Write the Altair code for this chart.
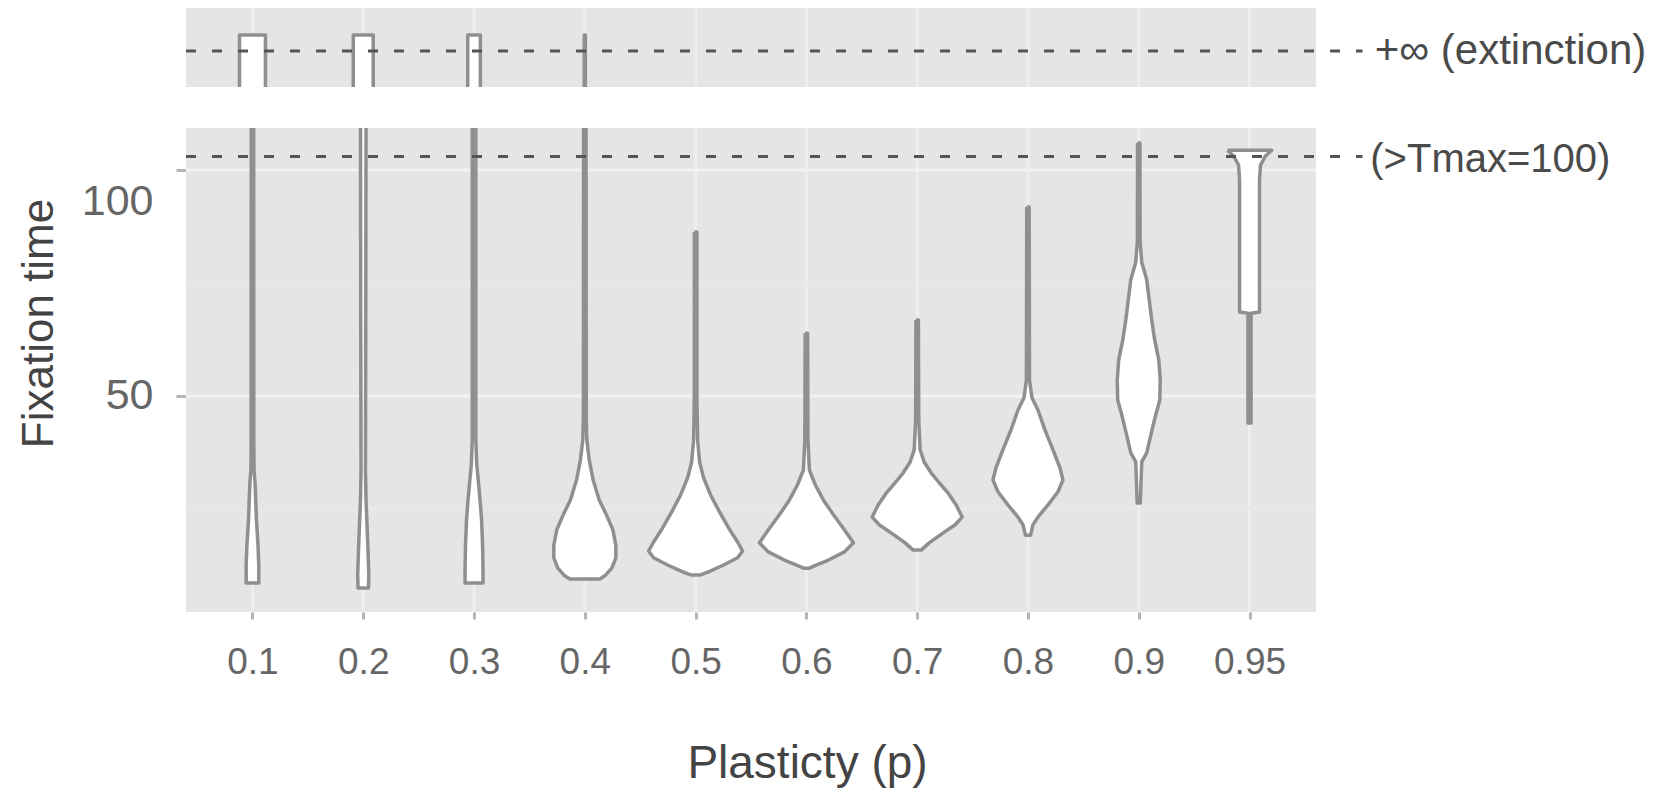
import json
import altair as alt
import pandas as pd

FONT = "Liberation Sans"

# Plasticity levels (x categories)
P_LABELS = ["0.1", "0.2", "0.3", "0.4", "0.5", "0.6", "0.7", "0.8", "0.9", "0.95"]

# Violin outlines: fixation time (top -> bottom) and half-width (category units)
T_01 = [109.3, 40.3, 33.6, 31.0, 22.6, 17.0, 12.6, 8.6]
W_01 = [0.011, 0.012, 0.014, 0.023, 0.036, 0.050, 0.057, 0.057]

T_02 = [109.3, 71.2, 33.6, 27.0, 21.5, 15.9, 10.4, 7.5]
W_02 = [0.025, 0.023, 0.020, 0.025, 0.034, 0.043, 0.050, 0.047]

T_03 = [109.3, 40.3, 34.7, 31.4, 27.0, 22.6, 17.0, 11.5, 8.6]
W_03 = [0.016, 0.016, 0.025, 0.038, 0.054, 0.068, 0.077, 0.081, 0.081]

T_04 = [109.3, 44.7, 40.3, 35.8, 31.4, 27.0, 23.7, 20.4, 17.0, 14.2, 11.9, 10.2, 9.5]
W_04 = [0.011, 0.013, 0.018, 0.040, 0.075, 0.130, 0.195, 0.253, 0.280, 0.280, 0.244, 0.181, 0.135]

T_05 = [86.3, 49.1, 40.3, 35.4, 31.9, 28.1, 24.3, 20.8, 17.7, 15.7, 14.2, 12.6, 11.2, 10.4]
W_05 = [0.011, 0.012, 0.018, 0.036, 0.072, 0.135, 0.217, 0.298, 0.379, 0.424, 0.379, 0.253, 0.126, 0.045]

T_06 = [63.9, 40.3, 33.6, 30.3, 27.0, 23.7, 20.4, 17.5, 15.5, 13.7, 12.4, 11.9]
W_06 = [0.011, 0.014, 0.027, 0.081, 0.153, 0.244, 0.343, 0.424, 0.343, 0.199, 0.072, 0.027]

T_07 = [66.8, 44.7, 38.1, 35.4, 33.0, 30.8, 28.5, 25.9, 23.2, 21.5, 19.7, 17.5, 15.9]
W_07 = [0.011, 0.014, 0.027, 0.063, 0.126, 0.199, 0.280, 0.352, 0.406, 0.343, 0.235, 0.108, 0.036]

T_08 = [91.8, 53.5, 49.6, 46.9, 42.5, 38.1, 34.1, 31.4, 28.8, 25.9, 23.2, 21.5, 19.2]
W_08 = [0.011, 0.014, 0.036, 0.090, 0.153, 0.226, 0.289, 0.316, 0.271, 0.181, 0.090, 0.045, 0.023]

T_09 = [106.0, 84.5, 79.6, 75.7, 71.2, 66.8, 62.4, 58.0, 53.5, 49.1, 45.8, 43.1, 40.3, 37.4, 35.4, 26.3]
W_09 = [0.011, 0.012, 0.027, 0.072, 0.095, 0.117, 0.144, 0.181, 0.194, 0.190, 0.153, 0.126, 0.099, 0.072, 0.027, 0.014]

T_095 = [104.4, 103.1, 101.1, 97.8, 68.6, 68.3, 44.0]
W_095 = [0.199, 0.144, 0.099, 0.090, 0.090, 0.014, 0.014]

T_SERIES = [T_01, T_02, T_03, T_04, T_05, T_06, T_07, T_08, T_09, T_095]
W_SERIES = [W_01, W_02, W_03, W_04, W_05, W_06, W_07, W_08, W_09, W_095]

# Extinct runs (+inf strip): half-widths of the violins reaching it
EXT_P = ["0.1", "0.2", "0.3", "0.4"]
EXT_W = [0.117, 0.090, 0.057, 0.005]
EXT_TOP = 0.658      # upper end of the strip violins (strip level units)
EXT_LINE = 0.456     # level of the +inf reference line
TMAX_LINE = 103      # level standing for runs beyond Tmax

Y_TICKS = [50, 100]
Y_MINOR = [25, 75]

# Layout
W = 1130
MAIN_H, GAP, TOP_H = 484, 41, 79
H = MAIN_H + GAP + TOP_H
X_LO, X_HI = 0.4, 10.6
T_LO, T_TOP = 2.2, 109.3
T_HI = T_LO + (T_TOP - T_LO) * H / MAIN_H
L_LO = -(MAIN_H + GAP) / TOP_H
RULE_END = 11.02
LABEL_X_EXT = 11.13
LABEL_X_TMAX = 11.09

PANEL = "#E5E5E5"
STROKE = "#8f8f8f"

xs = alt.Scale(domain=[X_LO, X_HI], nice=False, zero=False)
ys = alt.Scale(domain=[T_LO, T_HI], nice=False, zero=False)
ls = alt.Scale(domain=[L_LO, 1], nice=False, zero=False)

# ---- data tables -------------------------------------------------------
line_rows = []
for i, (p, ts, ws) in enumerate(zip(P_LABELS, T_SERIES, W_SERIES)):
    pos = i + 1
    left = [(pos - w, t) for t, w in zip(ts, ws)]
    right = [(pos + w, t) for t, w in reversed(list(zip(ts, ws)))]
    pts = left + right
    if ts[0] < T_TOP:
        pts.append(left[0])
    for k, (x, t) in enumerate(pts):
        line_rows.append({"p": p, "k": k, "x": x, "t": t})
line_df = pd.DataFrame(line_rows)

ext_line = []
for p, w in zip(EXT_P, EXT_W):
    pos = P_LABELS.index(p) + 1
    pts = [(pos - w, 0.0), (pos - w, EXT_TOP), (pos + w, EXT_TOP), (pos + w, 0.0)]
    for k, (x, lv) in enumerate(pts):
        ext_line.append({"p": p, "k": k, "x": x, "lv": lv})
ext_line_df = pd.DataFrame(ext_line)

pos_df = pd.DataFrame({"pos": list(range(1, len(P_LABELS) + 1))})

label_expr = json.dumps(P_LABELS) + "[datum.value - 1]"

x_axis = alt.Axis(
    values=list(range(1, len(P_LABELS) + 1)), labelExpr=label_expr,
    title="Plasticty (p)", grid=False, domain=False,
    tickSize=7, tickWidth=3, tickColor="#b5b5b5",
    labelFont=FONT, labelFontSize=37, labelColor="#666666",
    labelBaseline="alphabetic", labelPadding=54, labelFlush=False, labelOverlap=False,
    titleFont=FONT, titleFontSize=46, titleFontWeight="normal", titleColor="#444444",
    titleX=621, titleY=165, titleAlign="center", titleBaseline="alphabetic",
)
y_axis = alt.Axis(
    values=Y_TICKS, title="Fixation time", grid=False, domain=False,
    tickSize=10, tickWidth=3, tickColor="#b5b5b5",
    labelFont=FONT, labelFontSize=43, labelColor="#666666", labelPadding=23,
    labelBaseline="middle",
    labelOffset={"condition": {"test": "datum.value == 100", "value": 31}, "value": 0},
    titleFont=FONT, titleFontSize=44, titleFontWeight="normal", titleColor="#444444",
    titleAngle=270, titleX=-147, titleY=315, titleAlign="center", titleBaseline="middle",
)

# ---- panels --------------------------------------------------------------
bg_main = alt.Chart(pd.DataFrame({"x0": [X_LO], "x1": [X_HI], "y0": [T_LO], "y1": [T_TOP]})).mark_rect(
    color=PANEL
).encode(
    x=alt.X("x0:Q", scale=xs, axis=x_axis), x2="x1:Q",
    y=alt.Y("y0:Q", scale=ys, axis=y_axis), y2="y1:Q",
)
bg_top = alt.Chart(pd.DataFrame({"x0": [X_LO], "x1": [X_HI], "l0": [0.0], "l1": [1.0]})).mark_rect(
    color=PANEL
).encode(
    x=alt.X("x0:Q", scale=xs, axis=None), x2="x1:Q",
    y=alt.Y("l0:Q", scale=ls, axis=None), y2="l1:Q",
)

grid_x_main = alt.Chart(pos_df).mark_rule(color="#EEEEEE", strokeWidth=3).encode(
    x=alt.X("pos:Q", scale=xs, axis=None),
    y=alt.Y("a:Q", scale=ys, axis=None), y2="b:Q",
).transform_calculate(a=str(T_LO), b=str(T_TOP))
grid_x_top = alt.Chart(pos_df).mark_rule(color="#EEEEEE", strokeWidth=3).encode(
    x=alt.X("pos:Q", scale=xs, axis=None),
    y=alt.Y("a:Q", scale=ls, axis=None), y2="b:Q",
).transform_calculate(a="0", b="1")

grid_minor = alt.Chart(pd.DataFrame({"t": Y_MINOR})).mark_rule(color="#E9E9E9", strokeWidth=3).encode(
    y=alt.Y("t:Q", scale=ys, axis=None),
    x=alt.X("a:Q", scale=xs, axis=None), x2="b:Q",
).transform_calculate(a=str(X_LO), b=str(X_HI))
grid_major = alt.Chart(pd.DataFrame({"t": Y_TICKS})).mark_rule(color="#F2F2F2", strokeWidth=3).encode(
    y=alt.Y("t:Q", scale=ys, axis=None),
    x=alt.X("a:Q", scale=xs, axis=None), x2="b:Q",
).transform_calculate(a=str(X_LO), b=str(X_HI))

# ---- violins (white-filled outlines) -------------------------------------
v_shape = alt.Chart(line_df).mark_line(
    fill="white", stroke=STROKE, strokeWidth=3.5, strokeJoin="round"
).encode(
    y=alt.Y("t:Q", scale=ys, axis=None),
    x=alt.X("x:Q", scale=xs, axis=None),
    detail="p:N", order=alt.Order("k:Q"),
)
e_shape = alt.Chart(ext_line_df).mark_line(
    fill="white", stroke=STROKE, strokeWidth=3.5, strokeJoin="round"
).encode(
    y=alt.Y("lv:Q", scale=ls, axis=None),
    x=alt.X("x:Q", scale=xs, axis=None),
    detail="p:N", order=alt.Order("k:Q"),
)

# ---- reference lines and their labels -----------------------------------
dash = dict(color="#555555", strokeWidth=3, strokeDash=[10, 16])
tmax_rule = alt.Chart(pd.DataFrame({"t": [TMAX_LINE]})).mark_rule(**dash).encode(
    y=alt.Y("t:Q", scale=ys, axis=None),
    x=alt.X("a:Q", scale=xs, axis=None), x2="b:Q",
).transform_calculate(a=str(X_LO), b=str(RULE_END))
ext_rule = alt.Chart(pd.DataFrame({"lv": [EXT_LINE]})).mark_rule(**dash).encode(
    y=alt.Y("lv:Q", scale=ls, axis=None),
    x=alt.X("a:Q", scale=xs, axis=None), x2="b:Q",
).transform_calculate(a=str(X_LO), b=str(RULE_END))

txt = dict(align="left", baseline="middle", font=FONT, color="#4a4a4a")
ext_text = alt.Chart(pd.DataFrame({"lv": [EXT_LINE], "x": [LABEL_X_EXT], "s": ["+∞ (extinction)"]})).mark_text(
    fontSize=42, **txt
).encode(
    y=alt.Y("lv:Q", scale=ls, axis=None), x=alt.X("x:Q", scale=xs, axis=None), text="s:N",
)
tmax_text = alt.Chart(pd.DataFrame({"t": [TMAX_LINE], "x": [LABEL_X_TMAX], "s": ["(>Tmax=100)"]})).mark_text(
    fontSize=40, dy=4, **txt
).encode(
    y=alt.Y("t:Q", scale=ys, axis=None), x=alt.X("x:Q", scale=xs, axis=None), text="s:N",
)

chart = alt.layer(
    bg_main, bg_top, grid_x_main, grid_x_top, grid_minor, grid_major,
    v_shape, e_shape, tmax_rule, ext_rule, ext_text, tmax_text,
).resolve_scale(
    x="independent", y="independent"
).properties(
    width=W, height=H, background="white", autosize="none",
    padding={"left": 186, "top": 8, "right": 351, "bottom": 176},
).configure_view(stroke=None)

chart.save("out.html", embed_options={"renderer": "svg", "actions": False})
